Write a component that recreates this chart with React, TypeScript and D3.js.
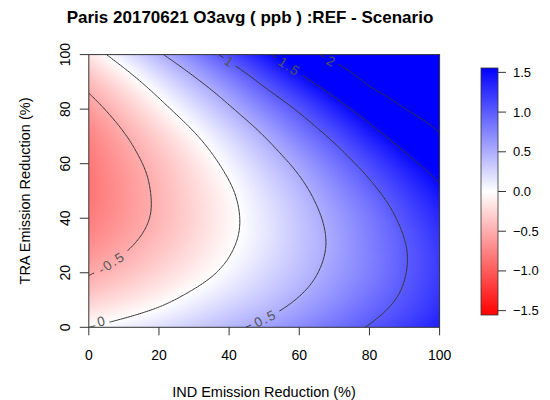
import React, { useMemo } from "react";
import * as d3 from "d3";

// ---------- data ----------
const xValues = [0, 10, 20, 30, 40, 50, 60, 70, 80, 90, 100]; // IND reduction (%)
const yValues = [0, 10, 20, 30, 40, 50, 60, 70, 80, 90, 100]; // TRA reduction (%)
// zRows[j][i] : value at TRA = yValues[j], IND = xValues[i]
const zRow00 = [0.0, 0.1, 0.2, 0.31, 0.44, 0.57, 0.71, 0.86, 1.02, 1.18, 1.36];
const zRow10 = [-0.29, -0.18, -0.06, 0.08, 0.22, 0.36, 0.52, 0.69, 0.87, 1.05, 1.25];
const zRow20 = [-0.52, -0.39, -0.25, -0.1, 0.06, 0.23, 0.4, 0.59, 0.78, 0.99, 1.2];
const zRow30 = [-0.69, -0.54, -0.38, -0.21, -0.03, 0.15, 0.35, 0.55, 0.77, 0.99, 1.22];
const zRow40 = [-0.79, -0.63, -0.45, -0.26, -0.06, 0.14, 0.36, 0.58, 0.81, 1.06, 1.31];
const zRow50 = [-0.84, -0.65, -0.45, -0.24, -0.03, 0.2, 0.43, 0.68, 0.93, 1.19, 1.45];
const zRow60 = [-0.82, -0.61, -0.4, -0.17, 0.07, 0.32, 0.57, 0.84, 1.11, 1.39, 1.66];
const zRow70 = [-0.75, -0.52, -0.28, -0.03, 0.23, 0.5, 0.78, 1.06, 1.36, 1.66, 1.97];
const zRow80 = [-0.61, -0.36, -0.09, 0.18, 0.46, 0.75, 1.04, 1.35, 1.67, 1.99, 2.18];
const zRow90 = [-0.41, -0.14, 0.15, 0.44, 0.74, 1.06, 1.38, 1.71, 2.05, 2.25, 2.33];
const zRow100 = [-0.15, 0.15, 0.46, 0.77, 1.1, 1.43, 1.78, 2.13, 2.24, 2.34, 2.4];
const zRows = [zRow00, zRow10, zRow20, zRow30, zRow40, zRow50, zRow60, zRow70, zRow80, zRow90, zRow100];

const contourLevels = [-0.5, 0, 0.5, 1, 1.5, 2];
const contourLabels = ["-0.5", "0", "0.5", "1", "1.5", "2"];
const labelEnds = ["bottom", "bottom", "bottom", "top", "top", "top"];

const xTicks = [0, 20, 40, 60, 80, 100];
const yTicks = [0, 20, 40, 60, 80, 100];
const colorbarTicks = [-1.5, -1.0, -0.5, 0.0, 0.5, 1.0, 1.5];
const zLimit = 1.555;
const colorStops = ["#ff0000", "#ffffff", "#0000ff"];

const title = "Paris 20170621 O3avg ( ppb ) :REF - Scenario";
const xLabel = "IND Emission Reduction (%)";
const yLabel = "TRA Emission Reduction (%)";

// ---------- layout ----------
const W = 550;
const H = 400;
const plotLeft = 88.8;
const plotRight = 439.6;
const plotTop = 54.6;
const plotBottom = 327.3;
const barLeft = 481;
const barRight = 498;
const barTop = 68;
const barBottom = 315;
const FONT = "'Liberation Sans', Arial, Helvetica, sans-serif";

const nx = xValues.length;
const ny = yValues.length;

function g(i: number, j: number): number {
  if (i < 0) return 3 * g(0, j) - 3 * g(1, j) + g(2, j);
  if (i > nx - 1) return 3 * g(nx - 1, j) - 3 * g(nx - 2, j) + g(nx - 3, j);
  if (j < 0) return 3 * g(i, 0) - 3 * g(i, 1) + g(i, 2);
  if (j > ny - 1) return 3 * g(i, ny - 1) - 3 * g(i, ny - 2) + g(i, ny - 3);
  return zRows[j][i];
}
function cr(p0: number, p1: number, p2: number, p3: number, t: number) {
  return 0.5 * (2 * p1 + (-p0 + p2) * t + (2 * p0 - 5 * p1 + 4 * p2 - p3) * t * t + (-p0 + 3 * p1 - 3 * p2 + p3) * t * t * t);
}
// smooth (bicubic) rendering of the grid
function sample(x: number, y: number) {
  const fx = (x - xValues[0]) / (xValues[1] - xValues[0]);
  const fy = (y - yValues[0]) / (yValues[1] - yValues[0]);
  const i = Math.max(0, Math.min(nx - 2, Math.floor(fx)));
  const j = Math.max(0, Math.min(ny - 2, Math.floor(fy)));
  const tx = fx - i;
  const ty = fy - j;
  const r = [-1, 0, 1, 2].map((dj) => cr(g(i - 1, j + dj), g(i, j + dj), g(i + 1, j + dj), g(i + 2, j + dj), tx));
  return cr(r[0], r[1], r[2], r[3], ty);
}

export default function App() {
  const xScale = d3.scaleLinear().domain(d3.extent(xValues) as [number, number]).range([plotLeft, plotRight]);
  const yScale = d3.scaleLinear().domain(d3.extent(yValues) as [number, number]).range([plotBottom, plotTop]);
  const color = d3
    .scaleLinear<string>()
    .domain([-zLimit, 0, zLimit])
    .range(colorStops)
    .clamp(true);
  const barScale = d3.scaleLinear().domain([-zLimit, zLimit]).range([barBottom, barTop]);

  const imageUrl = useMemo(() => {
    const w = Math.ceil(plotRight - plotLeft);
    const h = Math.ceil(plotBottom - plotTop);
    const canvas = document.createElement("canvas");
    canvas.width = w;
    canvas.height = h;
    const ctx = canvas.getContext("2d")!;
    const img = ctx.createImageData(w, h);
    for (let py = 0; py < h; py++) {
      const y = yScale.invert(plotTop + (py + 0.5) * ((plotBottom - plotTop) / h));
      for (let px = 0; px < w; px++) {
        const x = xScale.invert(plotLeft + (px + 0.5) * ((plotRight - plotLeft) / w));
        const c = d3.rgb(color(sample(x, y)));
        const k = (py * w + px) * 4;
        img.data[k] = c.r;
        img.data[k + 1] = c.g;
        img.data[k + 2] = c.b;
        img.data[k + 3] = 255;
      }
    }
    ctx.putImageData(img, 0, 0);
    return canvas.toDataURL();
  }, []);

  const { runsByLevel, labels } = useMemo(() => {
    const n = 201;
    const step = (xValues[nx - 1] - xValues[0]) / (n - 1);
    const stepY = (yValues[ny - 1] - yValues[0]) / (n - 1);
    const vals = new Array(n * n);
    for (let j = 0; j < n; j++)
      for (let i = 0; i < n; i++) vals[j * n + i] = sample(xValues[0] + i * step, yValues[0] + j * stepY);
    const cs = d3.contours().size([n, n]).smooth(true).thresholds(contourLevels)(vals);
    const toPx = (p: number[]): [number, number] => [
      xScale(xValues[0] + (p[0] - 0.5) * step),
      yScale(yValues[0] + (p[1] - 0.5) * stepY),
    ];
    const onB = (p: number[]) => p[0] < 0.3 || p[0] > n - 0.3 || p[1] < 0.3 || p[1] > n - 0.3;
    const runsByLevel: [number, number][][][] = [];
    cs.forEach((mp) => {
      const runs: [number, number][][] = [];
      mp.coordinates.forEach((poly) =>
        poly.forEach((ring) => {
          const pts = ring.slice(0, ring.length - 1);
          const k = pts.findIndex(onB);
          if (k < 0) {
            runs.push(ring.map(toPx));
            return;
          }
          let cur: [number, number][] = [];
          for (let s = 0; s <= pts.length; s++) {
            const p = pts[(k + s) % pts.length];
            if (onB(p)) {
              if (cur.length > 1) runs.push(cur);
              cur = [];
            } else cur.push(toPx(p));
          }
          if (cur.length > 1) runs.push(cur);
        })
      );
      runsByLevel.push(runs);
    });

    const labels = contourLevels.map((lv, li) => {
      const runs = runsByLevel[li];
      if (!runs.length) return null;
      const len = (r: [number, number][]) => d3.sum(r.slice(1), (p, q) => Math.hypot(p[0] - r[q][0], p[1] - r[q][1]));
      let run = runs.reduce((a, b) => (len(b) > len(a) ? b : a));
      const first = run[0];
      const last = run[run.length - 1];
      const wantBottom = labelEnds[li] === "bottom";
      const startIsEnd = wantBottom ? first[1] >= last[1] : first[1] <= last[1];
      if (!startIsEnd) run = run.slice().reverse();
      const text = contourLabels[li];
      const tw = text.length * 8.5;
      const target = tw / 2 + 9;
      const pointAt = (d: number): [number, number] => {
        let acc = 0;
        for (let s = 1; s < run.length; s++) {
          const seg = Math.hypot(run[s][0] - run[s - 1][0], run[s][1] - run[s - 1][1]);
          if (acc + seg >= d) {
            const t = (d - acc) / seg;
            return [run[s - 1][0] + t * (run[s][0] - run[s - 1][0]), run[s - 1][1] + t * (run[s][1] - run[s - 1][1])];
          }
          acc += seg;
        }
        return run[run.length - 1];
      };
      const p = pointAt(target);
      const a = pointAt(Math.max(0, target - 8));
      const b = pointAt(target + 8);
      let ang = (Math.atan2(b[1] - a[1], b[0] - a[0]) * 180) / Math.PI;
      if (ang > 90) ang -= 180;
      if (ang < -90) ang += 180;
      // keep the label inside the plot frame
      const px = Math.max(plotLeft + tw / 2 + 2, Math.min(plotRight - tw / 2 - 2, p[0]));
      const py = Math.max(plotTop + 7, Math.min(plotBottom - 6, p[1]));
      return { text, x: px, y: py, ang, tw };
    });
    return { runsByLevel, labels };
  }, []);

  const line = d3.line();

  return (
    <svg width={W} height={H} style={{ position: "absolute", left: 0, top: 0, background: "#fff" }} fontFamily={FONT}>
      <defs>
        <clipPath id="plotClip">
          <rect x={plotLeft} y={plotTop} width={plotRight - plotLeft} height={plotBottom - plotTop} />
        </clipPath>
        <mask id="labelGap" maskUnits="userSpaceOnUse" x={0} y={0} width={W} height={H}>
          <rect x={0} y={0} width={W} height={H} fill="#fff" />
          {labels.map((l, i) =>
            l ? (
              <rect
                key={i}
                x={-l.tw / 2 - 3}
                y={-7}
                width={l.tw + 6}
                height={14}
                fill="#000"
                transform={`translate(${l.x},${l.y}) rotate(${l.ang})`}
              />
            ) : null
          )}
        </mask>
        <linearGradient id="barGrad" x1="0" y1="1" x2="0" y2="0">
          {d3.range(0, 1.0001, 0.1).map((t) => (
            <stop key={t} offset={t} stopColor={color(-zLimit + 2 * zLimit * t)} />
          ))}
        </linearGradient>
      </defs>

      <text x={250} y={23} textAnchor="middle" fontSize={17} fontWeight="bold" fill="#000">
        {title}
      </text>

      <image
        href={imageUrl}
        x={plotLeft}
        y={plotTop}
        width={plotRight - plotLeft}
        height={plotBottom - plotTop}
        preserveAspectRatio="none"
      />

      <g clipPath="url(#plotClip)">
        <g mask="url(#labelGap)">
          {runsByLevel.map((runs, li) =>
            runs.map((r, ri) => (
              <path key={`${li}-${ri}`} d={line(r) || ""} fill="none" stroke="#333" strokeWidth={1} />
            ))
          )}
        </g>
        {labels.map((l, i) =>
          l ? (
            <text
              key={i}
              transform={`translate(${l.x},${l.y}) rotate(${l.ang})`}
              textAnchor="middle"
              dominantBaseline="central"
              fontSize={13.5}
              letterSpacing={1.5}
              fill="#555"
            >
              {l.text}
            </text>
          ) : null
        )}
      </g>

      <rect
        x={plotLeft}
        y={plotTop}
        width={plotRight - plotLeft}
        height={plotBottom - plotTop}
        fill="none"
        stroke="#333"
        strokeWidth={1}
      />

      {/* x axis */}
      <g>
        {xTicks.map((t) => (
          <g key={t}>
            <line x1={xScale(t)} x2={xScale(t)} y1={plotBottom} y2={plotBottom + 8} stroke="#333" />
            <text x={xScale(t)} y={360} textAnchor="middle" fontSize={14} fill="#000">
              {t}
            </text>
          </g>
        ))}
      </g>
      {/* y axis */}
      <g>
        {yTicks.map((t) => (
          <g key={t}>
            <line x1={plotLeft - 9} x2={plotLeft} y1={yScale(t)} y2={yScale(t)} stroke="#333" />
            <text
              transform={`translate(70,${yScale(t)}) rotate(-90)`}
              textAnchor="middle"
              fontSize={14}
              fill="#000"
            >
              {t}
            </text>
          </g>
        ))}
      </g>
      <text x={264} y={397} textAnchor="middle" fontSize={14.5} fill="#000">
        {xLabel}
      </text>
      <text transform={`translate(30,191) rotate(-90)`} textAnchor="middle" fontSize={14.5} fill="#000">
        {yLabel}
      </text>

      {/* colour bar */}
      <rect x={barLeft} y={barTop} width={barRight - barLeft} height={barBottom - barTop} fill="url(#barGrad)" stroke="#333" strokeWidth={0.8} />
      {colorbarTicks.map((t) => (
        <g key={t}>
          <line x1={barRight} x2={barRight + 8} y1={barScale(t)} y2={barScale(t)} stroke="#333" />
          <text x={513} y={barScale(t)} dominantBaseline="central" fontSize={13} fill="#000">
            {d3.format(".1f")(t)}
          </text>
        </g>
      ))}
    </svg>
  );
}
